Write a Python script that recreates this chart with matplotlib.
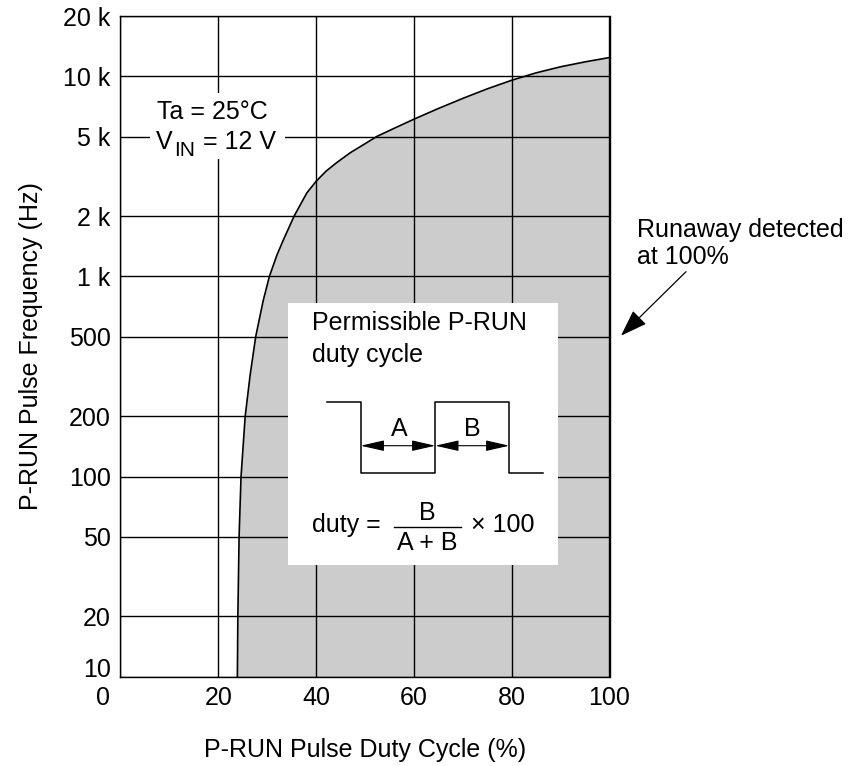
import matplotlib
matplotlib.use('Agg')
import matplotlib.pyplot as plt
import matplotlib.transforms as mtransforms
from matplotlib.patches import Rectangle, FancyArrowPatch
from matplotlib.lines import Line2D
from matplotlib.ticker import NullLocator

plt.rcParams['font.family'] = ['Liberation Sans', 'DejaVu Sans']

# ---- data ----
duty = [23.9, 24.0, 24.25, 24.65, 25.5, 26.5, 27.65, 29.2, 30.45, 32.0, 33.3, 35.5,
        38.1, 40.0, 42.0, 44.2, 47.0, 50.0, 52.4, 56.0, 60.0, 65.0, 70.0,
        75.0, 80.0, 85.0, 90.0, 95.0, 100.0]
freq = [10, 20, 50, 100, 200, 320, 500, 760, 1000, 1280, 1520, 2000,
        2612, 2985, 3350, 3700, 4150, 4600, 5000, 5500, 6100, 6900, 7750,
        8650, 9550, 10400, 11150, 11800, 12400]

x_ticks = [0, 20, 40, 60, 80, 100]
x_tick_labels = ['0', '20', '40', '60', '80', '100']
y_ticks = [10, 20, 50, 100, 200, 500, 1000, 2000, 5000, 10000, 20000]
y_tick_labels = ['10', '20', '50', '100', '200', '500', '1 k', '2 k', '5 k', '10 k', '20 k']

x_label = 'P-RUN Pulse Duty Cycle (%)'
y_label = 'P-RUN Pulse Frequency (Hz)'

W, H = 853, 766
FS = 18

fig = plt.figure(figsize=(W / 100, H / 100), dpi=100)
ax = fig.add_axes([120.5 / W, 1 - 676.7 / H, 489 / W, 660.7 / H])


def F(px, py):
    """reference pixel position -> figure fraction"""
    return (px / W, 1 - py / H)


ax.set_yscale('log')
ax.set_xlim(0, 100)
ax.set_ylim(10, 20000)

ax.fill_between(duty, freq, 10, color='#cccccc', lw=0, zorder=1)
ax.plot(duty, freq, color='black', lw=1.2, zorder=3, solid_joinstyle='round')

ax.set_xticks(x_ticks)
ax.set_xticklabels(x_tick_labels)
ax.set_yticks(y_ticks)
ax.set_yticklabels(y_tick_labels)
ax.yaxis.set_minor_locator(NullLocator())
ax.xaxis.set_minor_locator(NullLocator())
ax.tick_params(axis='both', length=0, labelsize=FS, colors='black')
ax.tick_params(axis='x', pad=6.7)
ax.tick_params(axis='y', pad=7)
ax.grid(True, color='black', lw=1.0)
ax.set_axisbelow(False)
for s in ax.spines.values():
    s.set_linewidth(1.0)
    s.set_color('black')

# shift corner labels away from the corner
lab0 = ax.get_xticklabels()[0]
lab0.set_transform(lab0.get_transform() + mtransforms.ScaledTranslation(-17 / 100, 0, fig.dpi_scale_trans))
laby = ax.get_yticklabels()[0]
laby.set_transform(laby.get_transform() + mtransforms.ScaledTranslation(0, 9 / 100, fig.dpi_scale_trans))

ax.set_xlabel(x_label, fontsize=FS)
ax.xaxis.set_label_coords(0.5, -0.0928)
ax.set_ylabel(y_label, fontsize=FS)
ax.yaxis.set_label_coords(-0.1593, 0.5)

# ---- Ta / VIN note ----
x0, y0 = F(150, 159)
x1, y1 = F(285, 93)
ax.add_patch(Rectangle((x0, y0), x1 - x0, y1 - y0, transform=fig.transFigure,
                       facecolor='white', edgecolor='none', zorder=4, clip_on=False))
fig.text(*F(156.7, 119), 'Ta = 25\u00b0C', fontsize=FS, ha='left', va='baseline', zorder=5)
fig.text(*F(156.0, 149), 'V', fontsize=FS, ha='left', va='baseline', zorder=5)
fig.text(*F(174.5, 156), 'IN', fontsize=15, ha='left', va='baseline', zorder=5)
fig.text(*F(203.3, 149), '= 12 V', fontsize=FS, ha='left', va='baseline', zorder=5)

# ---- inset box ----
x0, y0 = F(288.3, 565)
x1, y1 = F(558, 303.3)
ax.add_patch(Rectangle((x0, y0), x1 - x0, y1 - y0, transform=fig.transFigure,
                       facecolor='white', edgecolor='none', zorder=4, clip_on=False))
fig.text(*F(312.3, 330), 'Permissible P-RUN', fontsize=FS, ha='left', va='baseline', zorder=5)
fig.text(*F(312.3, 361.7), 'duty cycle', fontsize=FS, ha='left', va='baseline', zorder=5)

# waveform
wx = [326.7, 360.7, 360.7, 435.3, 435.3, 509.3, 509.3, 542.7]
wy = [401.7, 401.7, 472.7, 472.7, 401.7, 401.7, 472.7, 472.7]
pts = [F(a, b) for a, b in zip(wx, wy)]
fig.add_artist(Line2D([p[0] for p in pts], [p[1] for p in pts], color='black', lw=1.1,
                      transform=fig.transFigure, zorder=5))
for xa, xb in [(360.7, 435.3), (435.3, 509.3)]:
    arr = FancyArrowPatch(F(xa, 445.7), F(xb, 445.7), transform=fig.transFigure,
                          arrowstyle='<|-|>,head_length=1.45,head_width=0.33',
                          mutation_scale=10, color='black', lw=0.8,
                          shrinkA=0, shrinkB=0, zorder=5)
    fig.add_artist(arr)
fig.text(*F(399.3, 435.7), 'A', fontsize=FS, ha='center', va='baseline', zorder=5)
fig.text(*F(472.7, 435.7), 'B', fontsize=FS, ha='center', va='baseline', zorder=5)

# formula
fig.text(*F(312.3, 532.3), 'duty =', fontsize=FS, ha='left', va='baseline', zorder=5)
fb0 = F(394.3, 527.3)
fb1 = F(461, 527.3)
fig.add_artist(Line2D([fb0[0], fb1[0]], [fb0[1], fb1[1]], color='black', lw=1.0,
                      transform=fig.transFigure, zorder=5))
fig.text(*F(427.7, 520), 'B', fontsize=FS, ha='center', va='baseline', zorder=5)
fig.text(*F(427.7, 550), 'A + B', fontsize=FS, ha='center', va='baseline', zorder=5)
fig.text(*F(470.7, 532.3), '\u00d7 100', fontsize=FS, ha='left', va='baseline', zorder=5)

# ---- Runaway annotation ----
fig.text(*F(637.3, 236.7), 'Runaway detected', fontsize=FS, ha='left', va='baseline')
fig.text(*F(637.3, 264.3), 'at 100%', fontsize=FS, ha='left', va='baseline')
fig.add_artist(FancyArrowPatch(F(686, 271.7), F(621, 335.7), transform=fig.transFigure,
                               arrowstyle='-|>,head_length=1.2,head_width=0.42',
                               mutation_scale=14, color='black', lw=0.9,
                               shrinkA=0, shrinkB=0))

fig.savefig('out.png', dpi=100)
